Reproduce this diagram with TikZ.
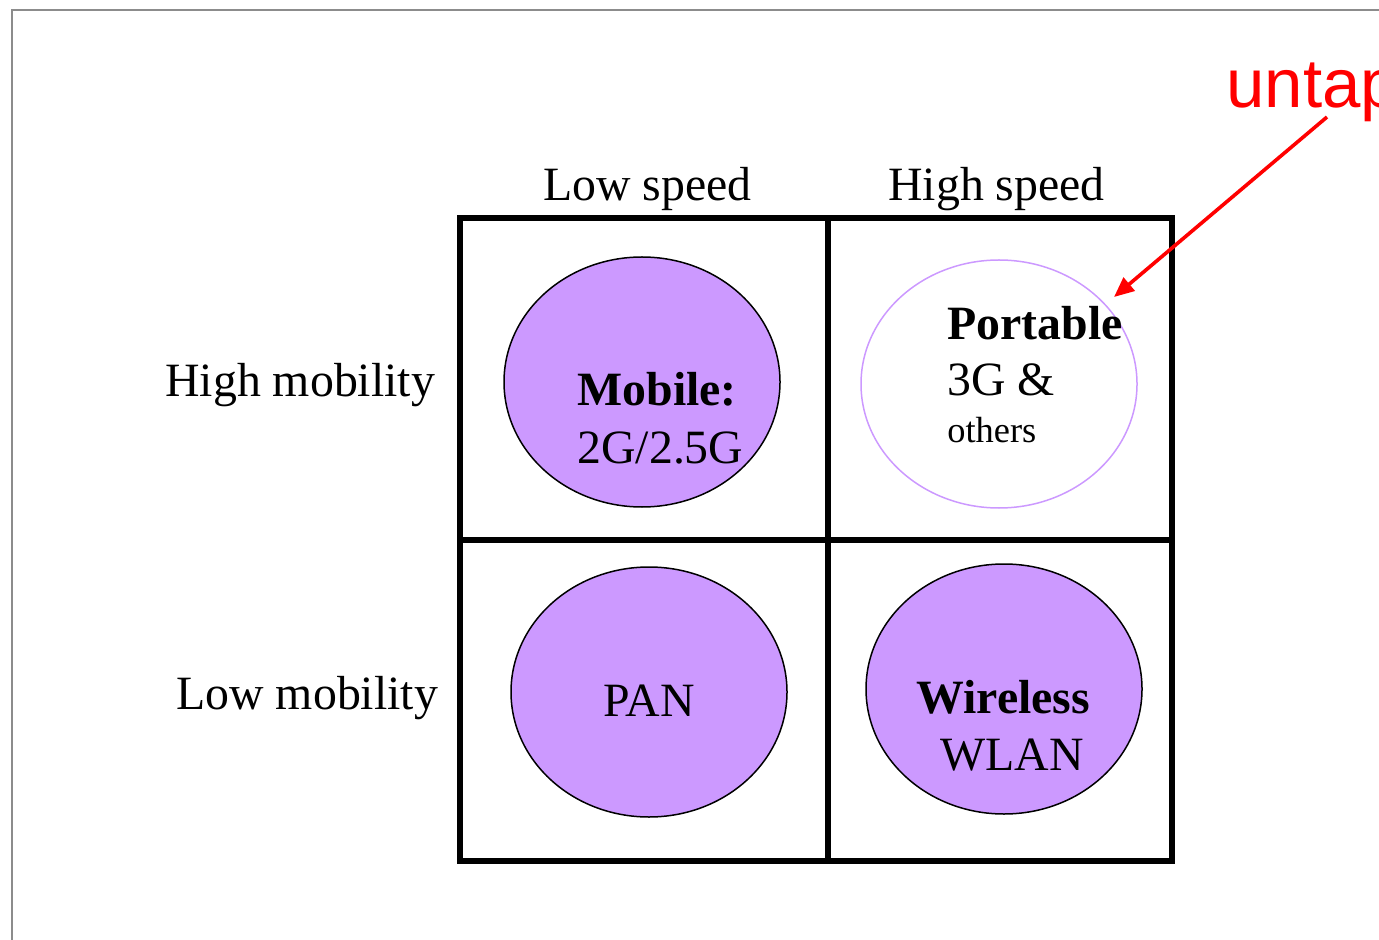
\documentclass[tikz,border=0pt]{standalone}
\usepackage{fontspec}
\setmainfont{Liberation Serif}
\newfontfamily\labelsans{Liberation Sans}
\usetikzlibrary{arrows.meta,shapes.geometric}
\definecolor{lilac}{RGB}{204,153,255}
\definecolor{framegray}{RGB}{140,140,140}
\tikzset{
  txt/.style={anchor=base west,inner sep=0pt,font=\fontsize{23.9}{28}\selectfont},
  smalltxt/.style={anchor=base west,inner sep=0pt,font=\fontsize{18.2}{22}\selectfont},
  bubble/.style={ellipse,draw=black,line width=0.75pt,fill=lilac,minimum width=138pt,minimum height=125pt,inner sep=0pt},
  openbubble/.style={ellipse,draw=lilac,line width=0.75pt,minimum width=138pt,minimum height=124pt,inner sep=0pt},
  grid/.style={line width=2.8pt,black},
}
\begin{document}
\begin{tikzpicture}[x=0.5pt,y=-0.5pt]
\useasboundingbox (0,0) rectangle (1379,940);
\clip (0,0) rectangle (1379,940);
% page frame
\draw[framegray,line width=1pt] (1379,10) -- (12,10) -- (12,940);
% ellipses
\node[bubble] (mobile) at (642,382) {};
\node[openbubble] (portable) at (999,384) {};
\node[bubble] (pan) at (649,692) {};
\node[bubble] (wireless) at (1004,689) {};
% 2x2 grid
\draw[grid] (460,218) rectangle (1172,861);
\draw[grid] (828,218) -- (828,861);
\draw[grid] (460,540) -- (1172,540);
% axis labels
\node[txt] (lowspeed) at (543,201) {Low speed};
\node[txt] (highspeed) at (888,201) {High speed};
\node[txt] (highmob) at (165,397) {High mobility};
\node[txt] (lowmob) at (176,709) {Low mobility};
% cell labels
\node[txt,font=\fontsize{23.9}{28}\selectfont\bfseries] (mobilet) at (577,406) {Mobile:};
\node[txt] (mobileg) at (577,463) {2G/2.5G};
\node[txt,font=\fontsize{23.9}{28}\selectfont\bfseries] (portablet) at (947,340) {Portable};
\node[txt] (threeg) at (947,396) {3G \&};
\node[smalltxt] (others) at (947,443) {others};
\node[txt] (pant) at (603,716) {PAN};
\node[txt,font=\fontsize{23.9}{28}\selectfont\bfseries] (wirelesst) at (916,713) {Wireless};
\node[txt] (wlan) at (940,770) {WLAN};
% red callout
\node[anchor=base west,inner sep=0pt,text=red,font=\labelsans\fontsize{34.5}{40}\selectfont] (untap) at (1226,108) {untap};
\coordinate (tail) at (1327,117);
\coordinate (tip) at (1114,297);
\draw[red,line width=1.8pt,-{Triangle[length=10pt,width=8.5pt]}] (tail) -- (tip);
\end{tikzpicture}
\end{document}
